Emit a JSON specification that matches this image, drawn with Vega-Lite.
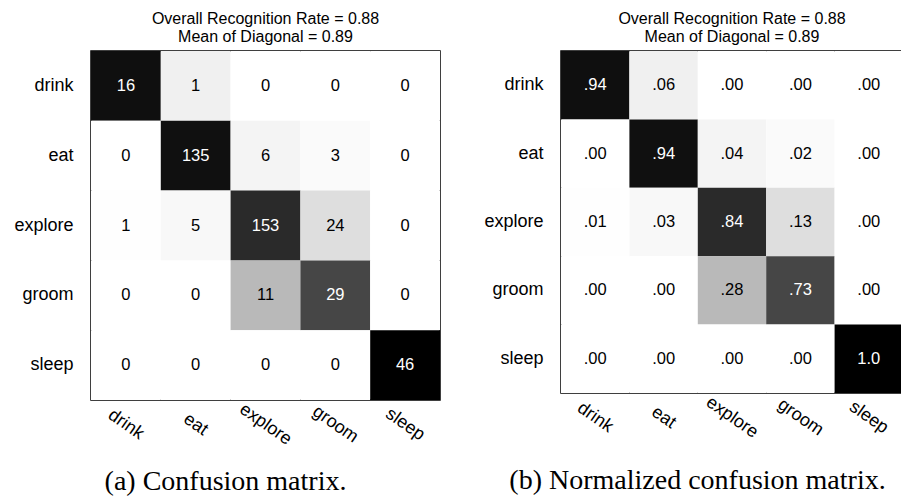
{
  "$schema": "https://vega.github.io/schema/vega-lite/v6.json",
  "padding": {"left": 13, "top": 10, "right": 0, "bottom": 0},
  "background": "white",
  "config": {
    "font": "Liberation Sans",
    "view": {"stroke": "black", "strokeWidth": 1.5},
    "title": {"font": "Liberation Sans", "fontSize": 16, "fontWeight": "normal", "color": "black", "anchor": "middle", "lineHeight": 18, "offset": 6},
    "axis": {"domain": false, "ticks": false, "tickSize": 0, "grid": false, "labelFont": "Liberation Sans", "labelFontSize": 18, "labelColor": "black"},
    "axisX": {"labelAngle": 35, "labelAlign": "center", "labelBaseline": "middle", "labelPadding": 24, "titleFont": "Liberation Serif", "titleFontSize": 28, "titleFontWeight": "normal", "titleColor": "black", "titleAlign": "center", "titleBaseline": "middle"},
    "axisY": {"labelPadding": 18, "title": null},
    "concat": {"spacing": 42}
  },
  "datasets": {
    "cm": [
      {"actual": "drink", "predicted": "drink", "count": 16, "rate": 0.941, "txt": ".94"},
      {"actual": "drink", "predicted": "eat", "count": 1, "rate": 0.059, "txt": ".06"},
      {"actual": "drink", "predicted": "explore", "count": 0, "rate": 0, "txt": ".00"},
      {"actual": "drink", "predicted": "groom", "count": 0, "rate": 0, "txt": ".00"},
      {"actual": "drink", "predicted": "sleep", "count": 0, "rate": 0, "txt": ".00"},
      {"actual": "eat", "predicted": "drink", "count": 0, "rate": 0, "txt": ".00"},
      {"actual": "eat", "predicted": "eat", "count": 135, "rate": 0.9375, "txt": ".94"},
      {"actual": "eat", "predicted": "explore", "count": 6, "rate": 0.0417, "txt": ".04"},
      {"actual": "eat", "predicted": "groom", "count": 3, "rate": 0.0208, "txt": ".02"},
      {"actual": "eat", "predicted": "sleep", "count": 0, "rate": 0, "txt": ".00"},
      {"actual": "explore", "predicted": "drink", "count": 1, "rate": 0.0055, "txt": ".01"},
      {"actual": "explore", "predicted": "eat", "count": 5, "rate": 0.0273, "txt": ".03"},
      {"actual": "explore", "predicted": "explore", "count": 153, "rate": 0.836, "txt": ".84"},
      {"actual": "explore", "predicted": "groom", "count": 24, "rate": 0.131, "txt": ".13"},
      {"actual": "explore", "predicted": "sleep", "count": 0, "rate": 0, "txt": ".00"},
      {"actual": "groom", "predicted": "drink", "count": 0, "rate": 0, "txt": ".00"},
      {"actual": "groom", "predicted": "eat", "count": 0, "rate": 0, "txt": ".00"},
      {"actual": "groom", "predicted": "explore", "count": 11, "rate": 0.275, "txt": ".28"},
      {"actual": "groom", "predicted": "groom", "count": 29, "rate": 0.725, "txt": ".73"},
      {"actual": "groom", "predicted": "sleep", "count": 0, "rate": 0, "txt": ".00"},
      {"actual": "sleep", "predicted": "drink", "count": 0, "rate": 0, "txt": ".00"},
      {"actual": "sleep", "predicted": "eat", "count": 0, "rate": 0, "txt": ".00"},
      {"actual": "sleep", "predicted": "explore", "count": 0, "rate": 0, "txt": ".00"},
      {"actual": "sleep", "predicted": "groom", "count": 0, "rate": 0, "txt": ".00"},
      {"actual": "sleep", "predicted": "sleep", "count": 46, "rate": 1.0, "txt": "1.0"}
    ]
  },
  "hconcat": [
    {
      "width": 349,
      "height": 349,
      "title": {"text": ["Overall Recognition Rate = 0.88", "Mean of Diagonal = 0.89"]},
      "data": {"name": "cm"},
      "encoding": {
        "x": {"field": "predicted", "type": "nominal", "sort": ["drink", "eat", "explore", "groom", "sleep"], "axis": {"title": "(a) Confusion matrix.", "titleX": 134, "titleY": 81}},
        "y": {"field": "actual", "type": "nominal", "sort": ["drink", "eat", "explore", "groom", "sleep"]}
      },
      "layer": [
        {"mark": {"type": "rect"}, "encoding": {"color": {"field": "rate", "type": "quantitative", "scale": {"domain": [0, 1], "range": ["#ffffff", "#000000"], "interpolate": "rgb"}, "legend": null}}},
        {"mark": {"type": "text", "fontSize": 16.5, "font": "Liberation Sans"}, "encoding": {"text": {"field": "count", "type": "quantitative"}, "color": {"condition": {"test": "datum.rate > 0.5", "value": "white"}, "value": "black"}}}
      ]
    },
    {
      "width": 342,
      "height": 342,
      "title": {"text": ["Overall Recognition Rate = 0.88", "Mean of Diagonal = 0.89"]},
      "data": {"name": "cm"},
      "encoding": {
        "x": {"field": "predicted", "type": "nominal", "sort": ["drink", "eat", "explore", "groom", "sleep"], "axis": {"title": "(b) Normalized confusion matrix.", "titleX": 136, "titleY": 87}},
        "y": {"field": "actual", "type": "nominal", "sort": ["drink", "eat", "explore", "groom", "sleep"]}
      },
      "layer": [
        {"mark": {"type": "rect"}, "encoding": {"color": {"field": "rate", "type": "quantitative", "scale": {"domain": [0, 1], "range": ["#ffffff", "#000000"], "interpolate": "rgb"}, "legend": null}}},
        {"mark": {"type": "text", "fontSize": 16.5, "font": "Liberation Sans"}, "encoding": {"text": {"field": "txt", "type": "nominal"}, "color": {"condition": {"test": "datum.rate > 0.5", "value": "white"}, "value": "black"}}}
      ]
    }
  ]
}
